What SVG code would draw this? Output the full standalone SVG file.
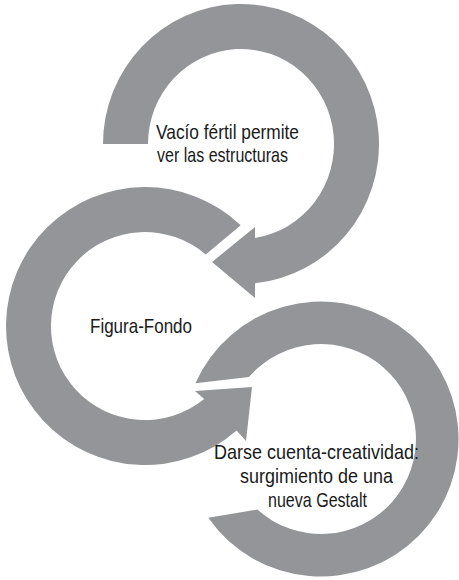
<svg xmlns="http://www.w3.org/2000/svg" width="459" height="580" viewBox="0 0 459 580">
  <style>
    .ring { fill: #939598; stroke: none; }
    .lbl { font-family: "Liberation Sans Narrow", "Liberation Sans", "Arial Narrow", sans-serif; font-size: 21px; fill: #1a1a1a; }
  </style>
  <rect width="459" height="580" fill="#ffffff"/>
  <g id="node-vacio">
    <path class="ring" d="M 103 144 A 138 140 0 1 1 255 283.3 L 255 298 L 212 262 L 255 227 L 255 237.9 A 93 95 0 1 0 148 144 Z"/>
    <text class="lbl" x="156" y="139" textLength="143" lengthAdjust="spacingAndGlyphs">Vacío fértil permite</text>
    <text class="lbl" x="157" y="162" textLength="131" lengthAdjust="spacingAndGlyphs">ver las estructuras</text>
  </g>
  <g id="node-figura">
    <path class="ring" d="M 240.7 225.2 A 139 139 0 1 0 236.6 430.6 L 246 441 L 252 387 L 195 391 L 204.2 399 A 94 94 0 1 1 205.8 254.4 Z"/>
    <text class="lbl" x="90" y="333" textLength="102" lengthAdjust="spacingAndGlyphs">Figura-Fondo</text>
  </g>
  <g id="node-darse">
    <path class="ring" d="M 195.4 383.2 A 137.5 137.5 0 1 1 208.3 517.8 L 257.4 509.6 A 95 95 0 1 0 248.9 377.1 Z"/>
    <text class="lbl" x="214" y="459" textLength="205" lengthAdjust="spacingAndGlyphs">Darse cuenta-creatividad:</text>
    <text class="lbl" x="240" y="483" textLength="153" lengthAdjust="spacingAndGlyphs">surgimiento de una</text>
    <text class="lbl" x="268" y="507" textLength="99" lengthAdjust="spacingAndGlyphs">nueva Gestalt</text>
  </g>
  <g id="connectors"/>
</svg>
